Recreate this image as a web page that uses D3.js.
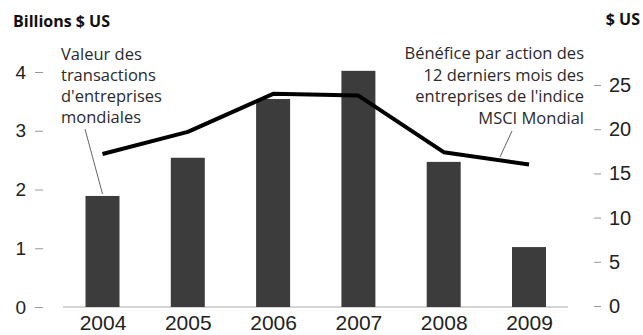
<!DOCTYPE html>
<html lang="fr">
<head>
<meta charset="UTF-8">
<title>Transactions et bénéfices</title>
<script src="https://d3js.org/d3.v7.min.js"></script>
<style>
    body { margin: 0; background: #fff; }
    svg { font-family: "Open Sans", sans-serif; }
    .axis path { display: none; }
    .axis line { stroke: #999; stroke-width: 1; }
    .axis text { fill: #222; }
    .note { fill: #2a2a2a; font-size: 16.5px; }
    .unit { font-size: 16px; font-weight: bold; fill: #111; }
</style>
</head>
<body>
<svg width="643" height="335"></svg>
<script>
    // data
    const years       = ["2004", "2005", "2006", "2007", "2008", "2009"];
    const dealValue   = [1.89, 2.54, 3.54, 4.02, 2.47, 1.02];   // billions $ US (bars)
    const eps         = [17.2, 19.7, 24.0, 23.8, 17.4, 16.0];   // $ US (line)
    const leftTicks   = [0, 1, 2, 3, 4];
    const rightTicks  = [0, 5, 10, 15, 20, 25];
    const noteLeft    = ["Valeur des", "transactions", "d'entreprises", "mondiales"];
    const noteRight   = ["Bénéfice par action des", "12 derniers mois des",
                         "entreprises de l'indice", "MSCI Mondial"];

    const svg = d3.select("svg");

    const x  = d3.scalePoint().domain(years).range([102.5, 529]);
    const yL = d3.scaleLinear().domain([0, 4]).range([307, 72]);
    const yR = d3.scaleLinear().domain([0, 25]).range([306, 85]);
    const barW = 34;

    // baseline
    svg.append("line")
       .attr("x1", 63).attr("x2", 568)
       .attr("y1", yL(0)).attr("y2", yL(0))
       .style("stroke", "#aaa").style("stroke-width", 1);

    // bars
    svg.selectAll("rect.bar")
       .data(years)
       .join("rect").attr("class", "bar")
         .attr("x", d => x(d) - barW / 2)
         .attr("width", barW)
         .attr("y", (d, i) => yL(dealValue[i]))
         .attr("height", (d, i) => yL(0) - yL(dealValue[i]))
         .style("fill", "#3c3c3c");

    // line
    const line = d3.line()
        .x((d, i) => x(years[i]))
        .y(d => yR(d));
    svg.append("path")
       .datum(eps)
       .attr("d", line)
       .style("fill", "none")
       .style("stroke", "#000")
       .style("stroke-width", 4)
       .style("stroke-linejoin", "round");

    // axes
    svg.append("g").attr("class", "axis")
       .attr("transform", "translate(43,0)")
       .call(d3.axisLeft(yL).tickValues(leftTicks).tickFormat(d3.format("d"))
               .tickSize(8).tickPadding(9))
       .selectAll("text").style("font-size", "19px");

    svg.append("g").attr("class", "axis")
       .attr("transform", "translate(594,0)")
       .call(d3.axisRight(yR).tickValues(rightTicks).tickSize(7).tickPadding(8))
       .selectAll("text").style("font-size", "20px");

    const xAxis = svg.append("g").attr("class", "axis")
       .attr("transform", `translate(0,${yL(0)})`)
       .call(d3.axisBottom(x).tickSize(0).tickPadding(8));
    xAxis.selectAll("text").style("font-size", "21px");

    // unit labels
    svg.append("text").attr("class", "unit")
       .attr("x", 13).attr("y", 27).text("Billions $ US");
    svg.append("text").attr("class", "unit")
       .attr("x", 640).attr("y", 25).attr("text-anchor", "end").text("$ US");

    // annotations
    svg.append("text").attr("class", "note")
       .selectAll("tspan")
       .data(noteLeft)
       .join("tspan")
         .attr("x", 61)
         .attr("y", (d, i) => 60 + i * 21)
         .text(d => d);

    svg.append("text").attr("class", "note")
       .attr("text-anchor", "end")
       .selectAll("tspan")
       .data(noteRight)
       .join("tspan")
         .attr("x", 584)
         .attr("y", (d, i) => 59 + i * 21.5)
         .text(d => d);

    // leader lines
    svg.append("line")
       .attr("x1", 85).attr("y1", 129)
       .attr("x2", x("2004")).attr("y2", yL(dealValue[0]) - 2)
       .style("stroke", "#666").style("stroke-width", 1);
    svg.append("line")
       .attr("x1", 512).attr("y1", 131)
       .attr("x2", 500).attr("y2", 157)
       .style("stroke", "#666").style("stroke-width", 1);
</script>
</body>
</html>
